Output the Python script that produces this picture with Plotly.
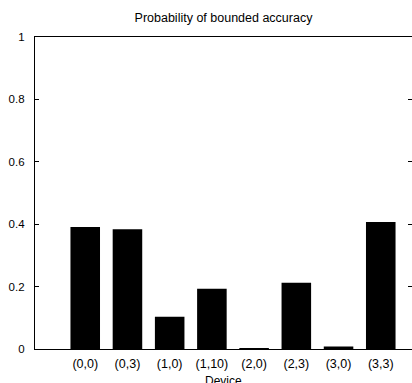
import plotly.graph_objects as go

devices = ["(0,0)", "(0,3)", "(1,0)", "(1,10)", "(2,0)", "(2,3)", "(3,0)", "(3,3)"]
probability = [0.391, 0.384, 0.103, 0.193, 0.003, 0.212, 0.008, 0.407]
y_ticks = [0, 0.2, 0.4, 0.6, 0.8, 1]

FONT = "Liberation Sans, Arial, Helvetica, sans-serif"

fig = go.Figure()
fig.add_trace(go.Bar(
    x=devices, y=probability,
    marker=dict(color="black", line=dict(width=0)),
    width=0.7, showlegend=False, hoverinfo="skip",
))
# invisible trace for the mirrored right-side ticks
fig.add_trace(go.Scatter(x=[devices[0]], y=[None], yaxis="y2", showlegend=False,
                         mode="markers", marker=dict(opacity=0), hoverinfo="skip"))

fig.update_layout(
    width=412, height=383,
    margin=dict(l=35, r=0, t=37, b=34),
    plot_bgcolor="white", paper_bgcolor="white",
    font=dict(family=FONT, size=11, color="black"),
    title=dict(text="Probability of bounded accuracy", x=0.5, xref="paper",
               y=1 - 18 / 383, yanchor="middle", xanchor="center",
               font=dict(size=12.5, family=FONT, color="black")),
    xaxis=dict(
        type="category", range=[-1.19, 7.74],
        showline=True, linecolor="black", linewidth=1.2, mirror=True,
        ticks="", showgrid=False, zeroline=False,
        tickfont=dict(size=12.5), ticklabelstandoff=3,
    ),
    yaxis=dict(
        range=[0, 1], tickvals=y_ticks,
        showline=True, linecolor="black", linewidth=1.2,
        ticks="inside", ticklen=4, tickcolor="black", tickwidth=1,
        showgrid=False, zeroline=False,
        tickfont=dict(size=11.5), ticklabelstandoff=7,
    ),
    yaxis2=dict(
        overlaying="y", side="right", range=[0, 1], tickvals=y_ticks,
        showline=False, ticks="inside", ticklen=4, tickcolor="black", tickwidth=1,
        showticklabels=False, showgrid=False, zeroline=False,
    ),
    bargap=0.3,
    annotations=[dict(text="Device", xref="paper", yref="paper", x=0.5, y=(349 - 381) / 312,
                      xanchor="center", yanchor="middle", showarrow=False,
                      font=dict(size=12, family=FONT, color="black"))],
)

fig.write_html("out.html", config={"displayModeBar": False},
               post_script="document.body.style.margin='0';document.body.style.overflow='hidden';")
